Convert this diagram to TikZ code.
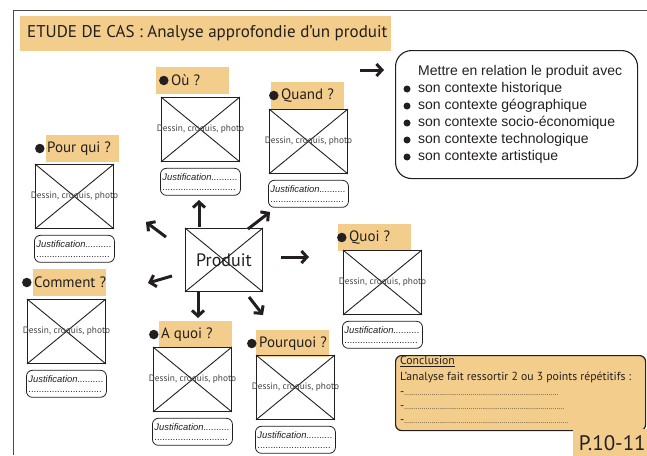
\documentclass[tikz,border=0pt]{standalone}
\usepackage{fontspec}
\setmainfont{PT Sans}
\newfontfamily\helv{Liberation Sans}
\usetikzlibrary{arrows.meta}
\definecolor{ocre}{RGB}{243,205,139}
\definecolor{encre}{RGB}{35,31,32}
\def\dixpoints{..........}
\def\fiche(#1)(#2,#3)(#4,#5,#6)#7{%
	\node[etiquette] (#1-etiq) at (#4,#5) {};
	\node[puce, minimum size=9.5pt] (#1-puce) at (#6+4.8,#5+13.5) {};
	\node[question] (#1-texte) at (#6+12,#5+13.5) {#7};
	\node[croquis] (#1) at (#2,#3) {};
	\draw[line width=0.9pt, color=encre] (#1.north west) -- (#1.south east);
	\draw[line width=0.9pt, color=encre] (#1.north east) -- (#1.south west);
	\node[legende] (#1-legende) at (#1.center) {Dessin, croquis, photo};
	\node[justif] (#1-justif) at ([yshift=-6pt]#1.south) {{\itshape Justification..........}\\............................};
}
\tikzset{
	etiquette/.style={fill=ocre, anchor=north west, minimum width=73pt, minimum height=27pt, inner sep=0pt},
	puce/.style={circle, fill=encre, inner sep=0pt, minimum size=7pt},
	question/.style={anchor=west, inner sep=0pt, font=\fontsize{15}{15}\selectfont, text=encre},
	croquis/.style={draw=encre, line width=0.9pt, anchor=north west, minimum width=78pt, minimum height=64pt, inner sep=0pt},
	legende/.style={inner sep=0pt, font=\fontsize{9.3}{9.3}\selectfont, text=encre!85},
	justif/.style={draw=encre, line width=0.8pt, rounded corners=6pt, anchor=north, minimum height=27pt, text width=76pt, inner xsep=2pt, inner ysep=2pt, align=left, font=\helv\fontsize{9.4}{10}\selectfont, text=encre},
	fleche/.style={line width=3pt, color=encre, -{Straight Barb[length=5.5pt, width=12pt]}},
	ligne/.style={anchor=mid west, inner sep=0pt, text=encre}
}

\begin{document}
\begin{tikzpicture}[x=1pt, y=-1pt]
			%%%%% CADRE %%%%%
			\useasboundingbox (0,0) rectangle (647,455);
			\draw[line width=1pt, color=black!70] (13,455) -- (13,10) -- (647,10);
			
			\node[fill=ocre, anchor=north west, minimum width=371pt, minimum height=35pt, inner sep=0pt] (titre) at (20,16) {};
			\node[anchor=west, inner sep=0pt, text=encre, font=\fontsize{17}{17}\selectfont] (titre-texte) at (27,33.5) {ETUDE DE CAS : Analyse approfondie d’un produit};
			
			%%%%% FICHES %%%%%
			\fiche(ou)(161,97)(156,67,159){Où ?}
			\fiche(quand)(269,109)(271,82,269){Quand ?}
			\fiche(pourqui)(35,164)(46,135,35){Pour qui ?}
			\fiche(comment)(27,299)(33,269,22){Comment ?}
			\fiche(aquoi)(153,347)(159,321,149){A quoi ?}
			\fiche(pourquoi)(256,355)(256,330,247){Pourquoi ?}
			\fiche(quoi)(343,250)(338,224,337){Quoi ?}
			
			%%%%% PRODUIT %%%%%
			\node[croquis, minimum width=77pt, minimum height=63pt] (produit) at (185,228) {};
			\draw[line width=0.9pt, color=encre] (produit.north west) -- (produit.south east);
			\draw[line width=0.9pt, color=encre] (produit.north east) -- (produit.south west);
			\node[inner sep=0pt, font=\fontsize{18}{18}\selectfont, text=encre] (produit-texte) at (produit.center) {Produit};
			
			\coordinate (fl-haut-a) at (199,227);
			\coordinate (fl-haut-b) at (199,200);
			\coordinate (fl-hd-a) at (248,229);
			\coordinate (fl-hd-b) at (270,212);
			\coordinate (fl-hg-a) at (166,237);
			\coordinate (fl-hg-b) at (146,222);
			\coordinate (fl-g-a) at (172,276);
			\coordinate (fl-g-b) at (148,283);
			\coordinate (fl-bas-a) at (198,292);
			\coordinate (fl-bas-b) at (198,318);
			\coordinate (fl-bd-a) at (249,297);
			\coordinate (fl-bd-b) at (263,315);
			\coordinate (fl-d-a) at (281,257);
			\coordinate (fl-d-b) at (309,257);
			\coordinate (fl-ctx-a) at (360,70);
			\coordinate (fl-ctx-b) at (384,70);
			\draw[fleche] (fl-haut-a) -- (fl-haut-b);
			\draw[fleche] (fl-hd-a) -- (fl-hd-b);
			\draw[fleche] (fl-hg-a) -- (fl-hg-b);
			\draw[fleche] (fl-g-a) -- (fl-g-b);
			\draw[fleche] (fl-bas-a) -- (fl-bas-b);
			\draw[fleche] (fl-bd-a) -- (fl-bd-b);
			\draw[fleche] (fl-d-a) -- (fl-d-b);
			\draw[fleche] (fl-ctx-a) -- (fl-ctx-b);
			
			%%%%% CONTEXTE %%%%%
			\node[draw=encre, line width=1.1pt, rounded corners=16pt, anchor=north west, minimum width=242pt, minimum height=128pt] (contexte) at (395,50) {};
			\node[ligne, font=\helv\fontsize{14}{14}\selectfont] (ctx0) at (418,73) {Mettre en relation le produit avec};
			\node[ligne, font=\helv\fontsize{14}{14}\selectfont] (ctx1) at (418,89.5) {son contexte historique};
			\node[ligne, font=\helv\fontsize{14}{14}\selectfont] (ctx2) at (418,106.5) {son contexte géographique};
			\node[ligne, font=\helv\fontsize{14}{14}\selectfont] (ctx3) at (418,123.5) {son contexte socio-économique};
			\node[ligne, font=\helv\fontsize{14}{14}\selectfont] (ctx4) at (418,140.5) {son contexte technologique};
			\node[ligne, font=\helv\fontsize{14}{14}\selectfont] (ctx5) at (418,157.5) {son contexte artistique};
			\node[puce] (puce1) at (407,89) {};
			\node[puce] (puce2) at (407,106) {};
			\node[puce] (puce3) at (407,123) {};
			\node[puce] (puce4) at (407,140) {};
			\node[puce] (puce5) at (407,157) {};
			
			%%%%% CONCLUSION %%%%%
			\node[draw=encre, fill=ocre, line width=1.2pt, rounded corners=6pt, anchor=north west, minimum width=250pt, minimum height=75pt] (conclusion) at (395,355) {};
			\node[ligne, font=\fontsize{11.7}{11.7}\selectfont] (concl0) at (400,362) {\underline{Conclusion}};
			\node[ligne, font=\fontsize{11.7}{11.7}\selectfont] (concl1) at (400,378) {L’analyse fait ressortir 2 ou 3 points répétitifs :};
			\node[ligne, font=\fontsize{7}{7}\selectfont] (concl2) at (400,393) {{\fontsize{11.7}{11.7}\selectfont -}\dixpoints\dixpoints\dixpoints\dixpoints\dixpoints\dixpoints\dixpoints.........};
			\node[ligne, font=\fontsize{7}{7}\selectfont] (concl3) at (400,407) {{\fontsize{11.7}{11.7}\selectfont -}\dixpoints\dixpoints\dixpoints\dixpoints\dixpoints\dixpoints\dixpoints\dixpoints..};
			\node[ligne, font=\fontsize{7}{7}\selectfont] (concl4) at (400,421) {{\fontsize{11.7}{11.7}\selectfont -}\dixpoints\dixpoints\dixpoints\dixpoints\dixpoints\dixpoints\dixpoints\dixpoints....};
			
			\node[fill=ocre, anchor=north west, minimum width=74pt, minimum height=27pt, inner sep=0pt] (page) at (573,429) {};
			\node[inner sep=0pt, font=\fontsize{21}{21}\selectfont, text=encre] (page-texte) at ([xshift=2pt]page.center) {P.10-11};
			
			%%%%% FIN %%%%%
\end{tikzpicture}
\end{document}
